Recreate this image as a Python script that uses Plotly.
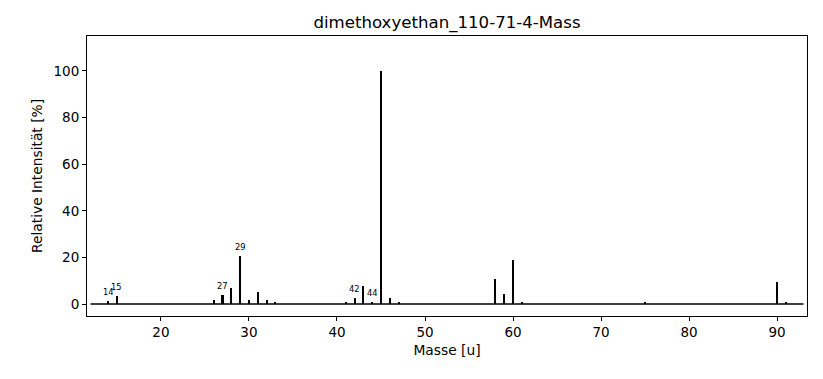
import plotly.graph_objects as go

masses = [14, 15, 26, 27, 28, 29, 30, 31, 32, 33, 41, 42, 43, 44, 45, 46, 47, 58, 59, 60, 61, 75, 90, 91]
intensities = [1.3, 3.4, 1.7, 3.9, 6.9, 20.6, 1.7, 5.1, 1.7, 0.9, 0.9, 2.6, 7.7, 0.9, 100.0, 2.6, 0.9, 10.7, 4.3, 18.9, 0.9, 0.9, 9.4, 0.9]
labelled = [14, 15, 27, 29, 42, 44]
baseline_x = [12.0, 93.0]
baseline_y = [0, 0]
x_ticks = [20, 30, 40, 50, 60, 70, 80, 90]
y_ticks = [0, 20, 40, 60, 80, 100]

FONT = "DejaVu Sans"

fig = go.Figure()
fig.add_trace(go.Scatter(x=baseline_x, y=baseline_y, mode="lines",
                         line=dict(color="black", width=1.5), hoverinfo="skip", showlegend=False))
fig.add_trace(go.Bar(x=masses, y=intensities, width=0.24, marker=dict(color="black", line=dict(width=0)),
                     showlegend=False))

for m, v in zip(masses, intensities):
    if m in labelled:
        fig.add_annotation(x=m, y=v, text=str(m), showarrow=False, yanchor="bottom",
                           xanchor="center", yshift=2, font=dict(family=FONT, size=8.3, color="black"))

fig.update_layout(
    width=823, height=379,
    margin=dict(l=87, r=16, t=36, b=63, autoexpand=False),
    paper_bgcolor="white", plot_bgcolor="white",
    font=dict(family=FONT, size=13.5, color="black"),
    title=dict(text="dimethoxyethan_110-71-4-Mass", x=447 / 823, xanchor="center",
               y=1 - 22 / 379, yanchor="middle", yref="container", automargin=False,
               font=dict(family=FONT, size=16.6, color="black")),
    bargap=0,
)
fig.update_xaxes(range=[11.6, 93.4], tickvals=x_ticks, ticks="outside", ticklen=4, tickcolor="black",
                 showline=True, linecolor="black", linewidth=1, mirror=True, showgrid=False,
                 zeroline=False, automargin=False,
                 title=dict(text="Masse [u]", font=dict(family=FONT, size=13.8), standoff=6))
fig.update_yaxes(range=[-5.15, 115], tickvals=y_ticks, ticks="outside", ticklen=4, tickcolor="black",
                 showline=True, linecolor="black", linewidth=1, mirror=True, showgrid=False,
                 zeroline=False, automargin=False,
                 title=dict(text="Relative Intensität [%]", font=dict(family=FONT, size=13.8), standoff=7))

fig.write_html("out.html", config={"displayModeBar": False},
               post_script="document.body.style.margin='0';document.body.style.padding='0';")
